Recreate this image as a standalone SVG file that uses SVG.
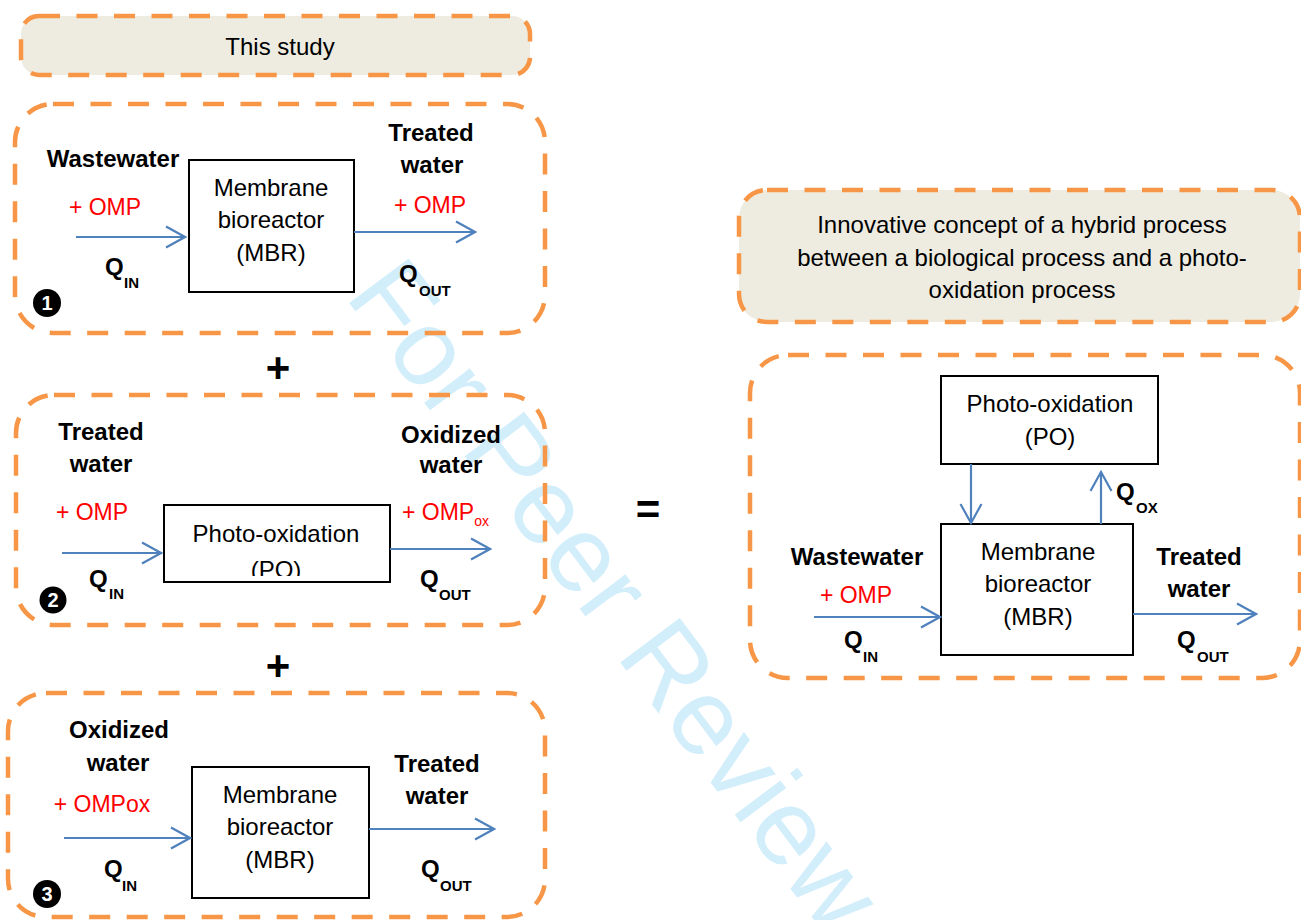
<svg xmlns="http://www.w3.org/2000/svg" width="1301" height="920" viewBox="0 0 1301 920">
<style>
.frame{fill:none;stroke:#f79646;stroke-width:4.5;stroke-dasharray:21 16.5}
.hdr{fill:#eeece1;stroke:#f79646;stroke-width:4.5;stroke-dasharray:21 16.5}
.box{fill:#ffffff;stroke:#000000;stroke-width:2}
.t{font-family:"Liberation Sans",Arial,sans-serif;font-size:24px;fill:#000000}
.c{text-anchor:middle}
.b{font-family:"Liberation Sans",Arial,sans-serif;font-size:24px;font-weight:bold;fill:#000000}
.r{font-family:"Liberation Sans",Arial,sans-serif;font-size:23px;fill:#ff0000}
.rs{font-size:14px}
.q{font-family:"Liberation Sans",Arial,sans-serif;font-size:24px;font-weight:bold;fill:#000000}
.qs{font-family:"Liberation Sans",Arial,sans-serif;font-size:15px;font-weight:bold;fill:#000000}
.big{font-family:"Liberation Sans",Arial,sans-serif;font-size:42px;font-weight:bold;fill:#000000;text-anchor:middle}
.num{fill:#000000}
.numt{font-family:"Liberation Sans",Arial,sans-serif;font-size:20px;font-weight:bold;fill:#ffffff;text-anchor:middle}
.arr{fill:none;stroke:#4f81bd;stroke-width:2.2;marker-end:url(#ah)}
.wm{font-family:"Liberation Sans",Arial,sans-serif;font-size:108px;fill:#d3eefb}
</style>
<defs>
<marker id="ah" markerUnits="userSpaceOnUse" viewBox="0 0 22 24" refX="20" refY="12" markerWidth="22" markerHeight="24" orient="auto">
<path d="M1,1.5 L20,12 L1,22.5" fill="none" stroke="#4f81bd" stroke-width="2.2"/>
</marker>
<clipPath id="poclip"><rect x="164" y="506" width="225" height="70"/></clipPath>
</defs>
<rect width="1301" height="920" fill="#ffffff"/>
<text class="wm" x="344" y="296" transform="rotate(53 344 296)">For Peer Review</text>

<g id="this-study">
<rect class="hdr" x="21" y="16" width="509" height="59" rx="18"/>
<text class="t c" x="280" y="55">This study</text>
</g>

<g id="panel1">
<rect class="frame" x="15" y="104" width="530" height="229" rx="38"/>
<text class="b c" x="113" y="167">Wastewater</text>
<text class="r c" x="105" y="215">+ OMP</text>
<text class="q" x="105" y="275">Q</text><text class="qs" x="124" y="288">IN</text>
<text class="b c" x="431" y="141">Treated</text>
<text class="b c" x="432" y="173">water</text>
<text class="r c" x="430" y="213">+ OMP</text>
<text class="q" x="399" y="282">Q</text><text class="qs" x="419" y="296">OUT</text>
<circle class="num" cx="47" cy="303" r="14"/><text class="numt" x="47" y="310">1</text>
</g>
<g id="mbr1">
<rect class="box" x="189" y="160" width="165" height="132"/>
<text class="t c" x="271" y="196">Membrane</text>
<text class="t c" x="271" y="228">bioreactor</text>
<text class="t c" x="271" y="261">(MBR)</text>
</g>

<text class="big" x="278" y="382">+</text>

<g id="panel2">
<rect class="frame" x="16" y="395" width="529" height="230" rx="38"/>
<text class="b c" x="101" y="440">Treated</text>
<text class="b c" x="101" y="472">water</text>
<text class="r c" x="92" y="520">+ OMP</text>
<text class="q" x="89" y="587">Q</text><text class="qs" x="109" y="599">IN</text>
<text class="b c" x="451" y="443">Oxidized</text>
<text class="b c" x="451" y="473">water</text>
<text class="r" x="402" y="520">+ OMP<tspan class="rs" dy="6">ox</tspan></text>
<text class="q" x="420" y="587">Q</text><text class="qs" x="439" y="600">OUT</text>
<circle class="num" cx="53" cy="600" r="13.5"/><text class="numt" x="53" y="607">2</text>
</g>
<g id="po1">
<rect class="box" x="164" y="505" width="226" height="77"/>
<text class="t c" x="276" y="542">Photo-oxidation</text>
<text class="t c" x="276" y="578" clip-path="url(#poclip)">(PO)</text>
</g>

<text class="big" x="278" y="680">+</text>

<g id="panel3">
<rect class="frame" x="8" y="693" width="537" height="224" rx="38"/>
<text class="b c" x="119" y="738">Oxidized</text>
<text class="b c" x="118" y="771">water</text>
<text class="r c" x="102" y="812">+ OMPox</text>
<text class="q" x="104" y="877">Q</text><text class="qs" x="122" y="891">IN</text>
<text class="b c" x="437" y="772">Treated</text>
<text class="b c" x="437" y="804">water</text>
<text class="q" x="421" y="877">Q</text><text class="qs" x="440" y="891">OUT</text>
<circle class="num" cx="47" cy="894" r="14"/><text class="numt" x="47" y="901">3</text>
</g>
<g id="mbr3">
<rect class="box" x="192" y="767" width="177" height="131"/>
<text class="t c" x="280" y="803">Membrane</text>
<text class="t c" x="280" y="835">bioreactor</text>
<text class="t c" x="280" y="868">(MBR)</text>
</g>

<text class="big" x="648" y="524">=</text>

<g id="hybrid-header">
<rect class="hdr" x="739" y="190" width="561" height="132" rx="28"/>
<text class="t c" x="1022" y="233">Innovative concept of a hybrid process</text>
<text class="t c" x="1022" y="266">between a biological process and a photo-</text>
<text class="t c" x="1022" y="298">oxidation process</text>
</g>

<g id="hybrid-panel">
<rect class="frame" x="750" y="355" width="550" height="323" rx="38"/>
<text class="b c" x="857" y="565">Wastewater</text>
<text class="r c" x="856" y="603">+ OMP</text>
<text class="q" x="844" y="648">Q</text><text class="qs" x="863" y="662">IN</text>
<text class="b c" x="1199" y="565">Treated</text>
<text class="b c" x="1199" y="597">water</text>
<text class="q" x="1177" y="648">Q</text><text class="qs" x="1197" y="662">OUT</text>
<text class="q" x="1116" y="500">Q</text><text class="qs" x="1136" y="513">OX</text>
</g>
<g id="po2">
<rect class="box" x="941" y="376" width="217" height="88"/>
<text class="t c" x="1050" y="412">Photo-oxidation</text>
<text class="t c" x="1050" y="445">(PO)</text>
</g>
<g id="mbr2">
<rect class="box" x="941" y="524" width="192" height="131"/>
<text class="t c" x="1038" y="560">Membrane</text>
<text class="t c" x="1038" y="592">bioreactor</text>
<text class="t c" x="1038" y="625">(MBR)</text>
</g>

<g id="connectors">
<line class="arr" x1="76" y1="237" x2="185" y2="237"/>
<line class="arr" x1="354" y1="232" x2="475" y2="232"/>
<line class="arr" x1="62" y1="553" x2="161" y2="553"/>
<line class="arr" x1="390" y1="549" x2="490" y2="549"/>
<line class="arr" x1="64" y1="838" x2="190" y2="838"/>
<line class="arr" x1="369" y1="829" x2="494" y2="829"/>
<line class="arr" x1="971" y1="464" x2="971" y2="523"/>
<line class="arr" x1="1101" y1="524" x2="1101" y2="472"/>
<line class="arr" x1="814" y1="617" x2="940" y2="617"/>
<line class="arr" x1="1133" y1="614" x2="1256" y2="614"/>
</g>
</svg>
